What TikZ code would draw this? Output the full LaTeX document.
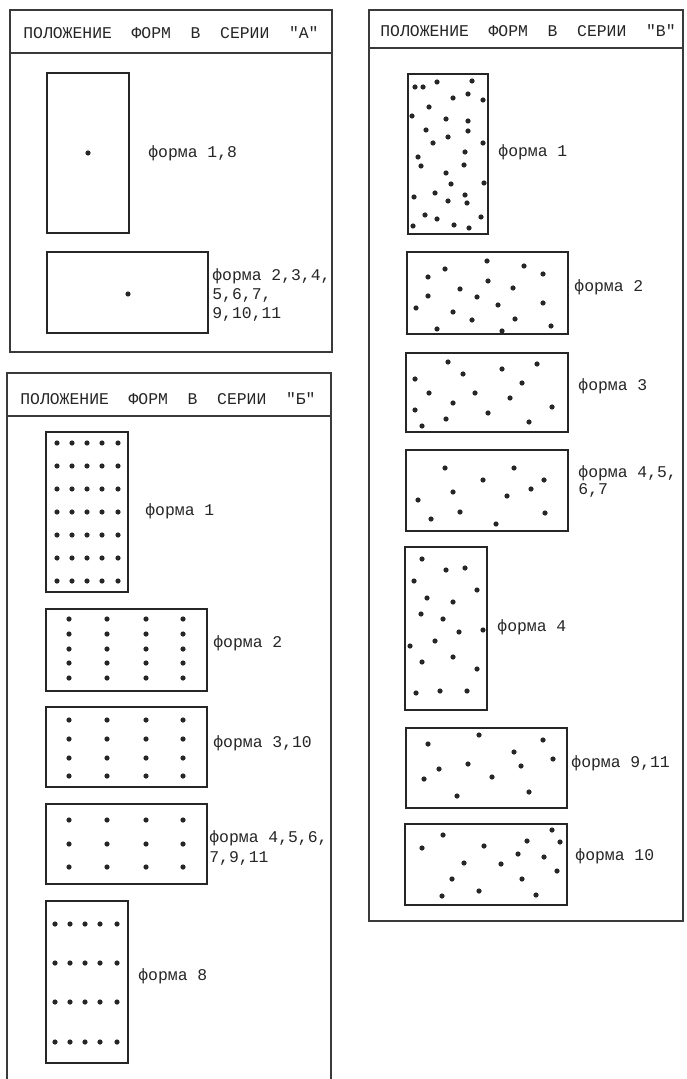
\documentclass[tikz,border=0pt]{standalone}
\usepackage{fontspec}
\newfontfamily\typewr{Liberation Mono}
\usetikzlibrary{positioning}
\usepackage{xcolor}
\definecolor{ink}{HTML}{262626}
\definecolor{frame}{HTML}{3A3A3A}
\newcommand{\wordgap}{\hspace{1.2em}}

\begin{document}
\begin{tikzpicture}[x=0.5pt, y=-0.5pt,
        panel/.style={draw=frame, line width=0.7pt},
        formbox/.style={draw=ink, line width=0.9pt},
        hdr/.style={font=\typewr\fontsize{8.2}{9.5}\selectfont, text=ink,
          inner sep=0pt},
        lbl/.style={font=\typewr\fontsize{8.2}{9.5}\selectfont, text=ink,
          inner sep=0pt, anchor=west, align=left},
        dotmark/.style={fill=ink},
      ]

      \useasboundingbox (0,0) rectangle (686,1079);
      \fill[white] (0,0) rectangle (686,1079);

      % Series A panel
      \draw[panel] (10,10) rectangle (332,352);
      \draw[panel] (10,53) -- (332,53);
      \node[hdr] (hA) at (171,33)
        {ПОЛОЖЕНИЕ\wordgap ФОРМ\wordgap В\wordgap СЕРИИ\wordgap "А"};

      \draw[formbox] (47,73) rectangle (129,233);
      \fill[dotmark] (88,153) circle[radius=1.3pt];
      \node[lbl] (lA1) at (148,153) {форма 1,8};

      \draw[formbox] (47,252) rectangle (208,333);
      \fill[dotmark] (128,294) circle[radius=1.3pt];
      \node[lbl] (lA2) at (212,295) {форма 2,3,4,\\5,6,7,\\9,10,11};

      % Series B panel (bottom edge cut off)
      \draw[panel] (7,1079) -- (7,373) -- (331,373) -- (331,1079);
      \draw[panel] (7,416) -- (331,416);
      \node[hdr] (hB) at (168,399)
        {ПОЛОЖЕНИЕ\wordgap ФОРМ\wordgap В\wordgap СЕРИИ\wordgap "Б"};

      % Form 1: 5 x 7 grid
      \draw[formbox] (46,432) rectangle (128,592);
      \foreach \x in {57,72,87,102,118}
        \foreach \y in {443,466,489,512,535,558,581}
          \fill[dotmark] (\x,\y) circle[radius=1.3pt];
      \node[lbl] (lB1) at (145,511) {форма 1};

      % Form 2: 4 x 5 grid
      \draw[formbox] (46,609) rectangle (207,691);
      \foreach \x in {69,107,146,183}
        \foreach \y in {619,634,649,663,678}
          \fill[dotmark] (\x,\y) circle[radius=1.3pt];
      \node[lbl] (lB2) at (213,643) {форма 2};

      % Form 3,10: 4 x 4 grid
      \draw[formbox] (46,707) rectangle (207,787);
      \foreach \x in {69,107,146,183}
        \foreach \y in {720,739,758,776}
          \fill[dotmark] (\x,\y) circle[radius=1.3pt];
      \node[lbl] (lB3) at (213,743) {форма 3,10};

      % Form 4,5,6,7,9,11: 4 x 3 grid
      \draw[formbox] (46,804) rectangle (207,884);
      \foreach \x in {69,107,146,183}
        \foreach \y in {820,844,867}
          \fill[dotmark] (\x,\y) circle[radius=1.3pt];
      \node[lbl] (lB4) at (209,848) {форма 4,5,6,\\[0.5pt]7,9,11};

      % Form 8: 5 x 4 grid
      \draw[formbox] (46,901) rectangle (128,1063);
      \foreach \x in {55,70,85,100,117}
        \foreach \y in {924,963,1002,1042}
          \fill[dotmark] (\x,\y) circle[radius=1.3pt];
      \node[lbl] (lB5) at (138,976) {форма 8};

      % Series V panel
      \draw[panel] (369,10) rectangle (683,921);
      \draw[panel] (369,48) -- (683,48);
      \node[hdr] (hV) at (528,31)
        {ПОЛОЖЕНИЕ\wordgap ФОРМ\wordgap В\wordgap СЕРИИ\wordgap "В"};

      % Form 1: scattered
      \draw[formbox] (408,74) rectangle (488,234);
      \foreach \p in {(415,87),(423,87),(437,82),(472,81),(453,98),(468,94),
          (483,100),(429,107),(412,116),(446,119),(468,121),(426,130),
          (468,131),(448,137),(433,143),(483,143),(465,152),(418,157),
          (421,166),(464,165),(446,173),(451,184),(484,183),(414,197),
          (435,193),(465,195),(448,201),(467,203),(425,215),(437,219),
          (481,217),(413,226),(454,225),(469,228)}
        \fill[dotmark] \p circle[radius=1.3pt];
      \node[lbl] (lV1) at (498,152) {форма 1};

      % Form 2
      \draw[formbox] (407,252) rectangle (568,334);
      \foreach \p in {(428,277),(445,269),(487,261),(524,266),(543,274),
          (488,281),(460,289),(513,288),(428,296),(477,297),(416,308),
          (498,305),(543,303),(453,312),(472,320),(515,319),(437,329),
          (502,331),(551,326)}
        \fill[dotmark] \p circle[radius=1.3pt];
      \node[lbl] (lV2) at (574,287) {форма 2};

      % Form 3
      \draw[formbox] (406,353) rectangle (568,432);
      \foreach \p in {(448,362),(537,364),(502,369),(463,374),(415,379),
          (522,383),(429,393),(475,393),(510,398),(453,403),(552,407),
          (415,410),(488,413),(446,419),(422,426),(529,422)}
        \fill[dotmark] \p circle[radius=1.3pt];
      \node[lbl] (lV3) at (578,386) {форма 3};

      % Form 4,5,6,7
      \draw[formbox] (406,450) rectangle (568,531);
      \foreach \p in {(445,468),(514,468),(483,480),(544,480),(453,492),
          (531,489),(507,496),(418,500),(460,512),(545,513),(431,519),
          (496,524)}
        \fill[dotmark] \p circle[radius=1.3pt];
      \node[lbl] (lV4) at (578,482) {форма 4,5,\\[-1pt]6,7};

      % Form 4
      \draw[formbox] (405,547) rectangle (487,710);
      \foreach \p in {(422,559),(446,570),(465,568),(414,581),(477,590),
          (427,598),(453,602),(421,614),(443,619),(483,630),(459,632),
          (435,641),(410,646),(453,657),(422,662),(477,669),(416,693),
          (440,691),(467,691)}
        \fill[dotmark] \p circle[radius=1.3pt];
      \node[lbl] (lV5) at (497,627) {форма 4};

      % Form 9,11
      \draw[formbox] (406,728) rectangle (567,808);
      \foreach \p in {(428,744),(479,735),(543,740),(514,752),(553,759),
          (468,764),(521,766),(439,769),(424,779),(492,777),(457,796),
          (529,792)}
        \fill[dotmark] \p circle[radius=1.3pt];
      \node[lbl] (lV6) at (571,763) {форма 9,11};

      % Form 10
      \draw[formbox] (405,824) rectangle (567,905);
      \foreach \p in {(443,835),(552,830),(422,848),(484,846),(527,841),
          (560,842),(518,854),(544,857),(464,863),(501,864),(557,871),
          (452,879),(522,879),(442,896),(479,891),(536,895)}
        \fill[dotmark] \p circle[radius=1.3pt];
      \node[lbl] (lV7) at (575,856) {форма 10};

      \end{tikzpicture}
\end{document}
